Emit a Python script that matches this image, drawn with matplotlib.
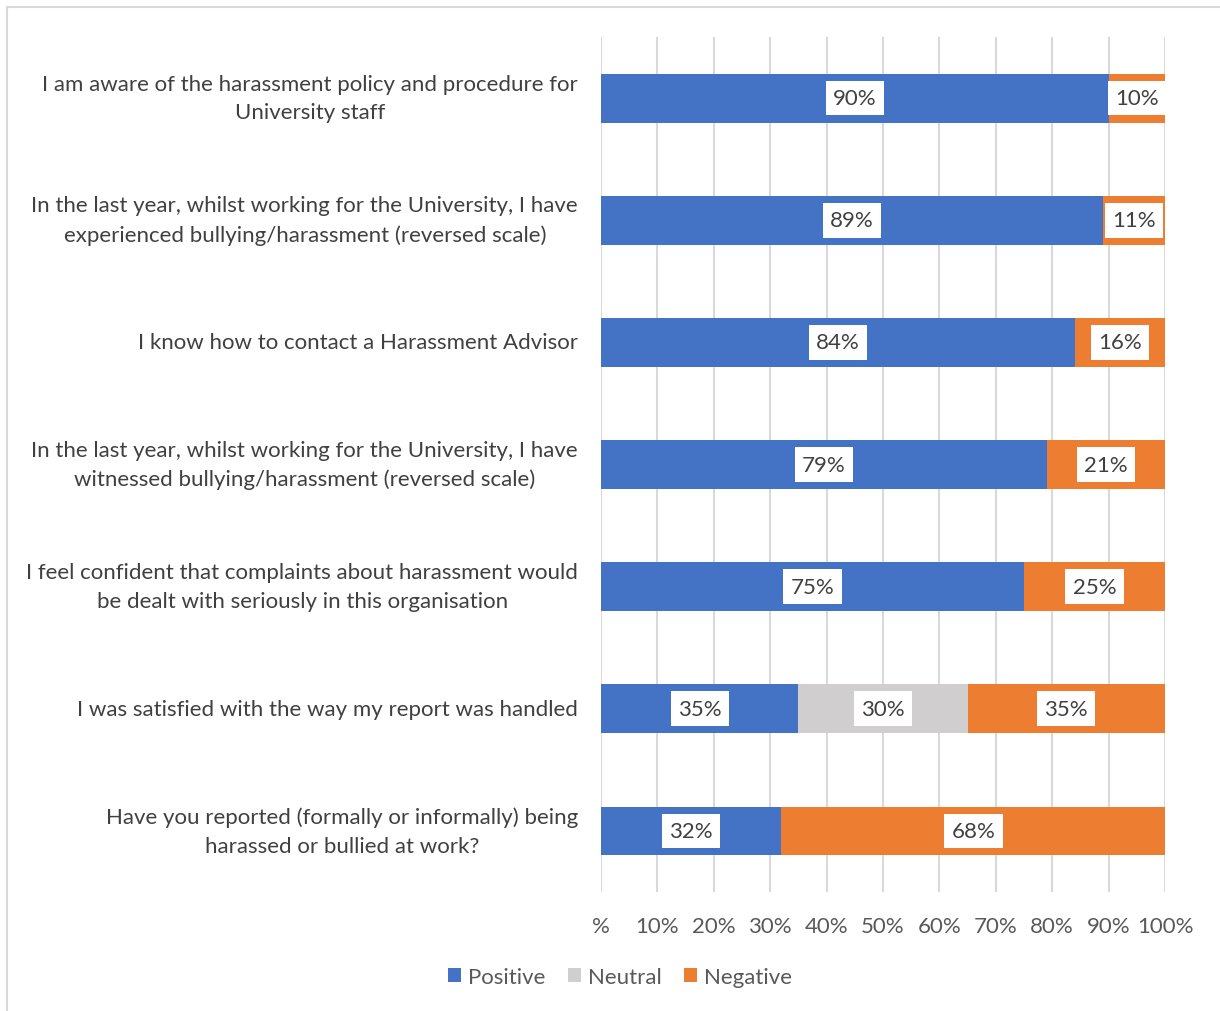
import matplotlib.pyplot as plt
from matplotlib.lines import Line2D
import numpy as np

plt.rcParams["font.family"] = ["Lato", "DejaVu Sans"]

questions = [
    "I am aware of the harassment policy and procedure for\nUniversity staff",
    "In the last year, whilst working for the University, I have\nexperienced bullying/harassment (reversed scale)",
    "I know how to contact a Harassment Advisor",
    "In the last year, whilst working for the University, I have\nwitnessed bullying/harassment (reversed scale)",
    "I feel confident that complaints about harassment would\nbe dealt with seriously in this organisation",
    "I was satisfied with the way my report was handled",
    "Have you reported (formally or informally) being\nharassed or bullied at work?",
]
positive = [90, 89, 84, 79, 75, 35, 32]
neutral = [0, 0, 0, 0, 0, 30, 0]
negative = [10, 11, 16, 21, 25, 35, 68]

series = [("Positive", positive, "#4472C4"),
          ("Neutral", neutral, "#D0CECE"),
          ("Negative", negative, "#ED7D31")]

fig = plt.figure(figsize=(12.2, 10.12), dpi=100)
ax = fig.add_axes([601 / 1220, 1 - 893 / 1012, 564 / 1220, 855 / 1012])

y = np.arange(len(questions))
left = np.zeros(len(questions))
for name, vals, color in series:
    vals = np.array(vals, dtype=float)
    ax.barh(y, vals, left=left, height=0.4, color=color, label=name, zorder=2)
    for yi, l, v in zip(y, left, vals):
        if v > 0:
            ax.text(l + v / 2, yi, f"{v:.0f}%", ha="center", va="center",
                    fontsize=16, color="#404040", zorder=3,
                    bbox=dict(boxstyle="square,pad=0.33", fc="white", ec="none"))
    left += vals

ax.set_xlim(0, 100)
ax.set_ylim(len(questions) - 0.5, -0.5)
ax.set_yticks(y)
ax.set_yticklabels(questions, fontsize=16, color="#404040",
                   multialignment="center", linespacing=1.55, va="center")
ticks = np.arange(0, 101, 10)
ax.set_xticks(ticks)
ax.set_xticklabels(["%"] + [f"{t}%" for t in ticks[1:]], fontsize=16, color="#595959")
ax.tick_params(axis="y", length=0, pad=16.5)
ax.tick_params(axis="x", length=0, pad=17)
ax.xaxis.grid(True, color="#D9D9D9", linewidth=1.5, zorder=0)
ax.set_axisbelow(True)
for s in ax.spines.values():
    s.set_visible(False)

handles, labels = ax.get_legend_handles_labels()
fig.legend(handles, labels, loc="center", bbox_to_anchor=(0.508, 1 - 978 / 1012),
           ncol=3, frameon=False, fontsize=16, handlelength=0.6, handleheight=0.6,
           handletextpad=0.3, columnspacing=1.0, labelcolor="#595959")

# chart frame edges
fig.add_artist(Line2D([7 / 1220, 7 / 1220], [0, 1 - 8 / 1012], color="#D9D9D9", lw=1.5,
                      transform=fig.transFigure))
fig.add_artist(Line2D([7 / 1220, 1], [1 - 8 / 1012, 1 - 8 / 1012], color="#D9D9D9", lw=1.5,
                      transform=fig.transFigure))

fig.savefig("out.png", dpi=100, facecolor="white")
